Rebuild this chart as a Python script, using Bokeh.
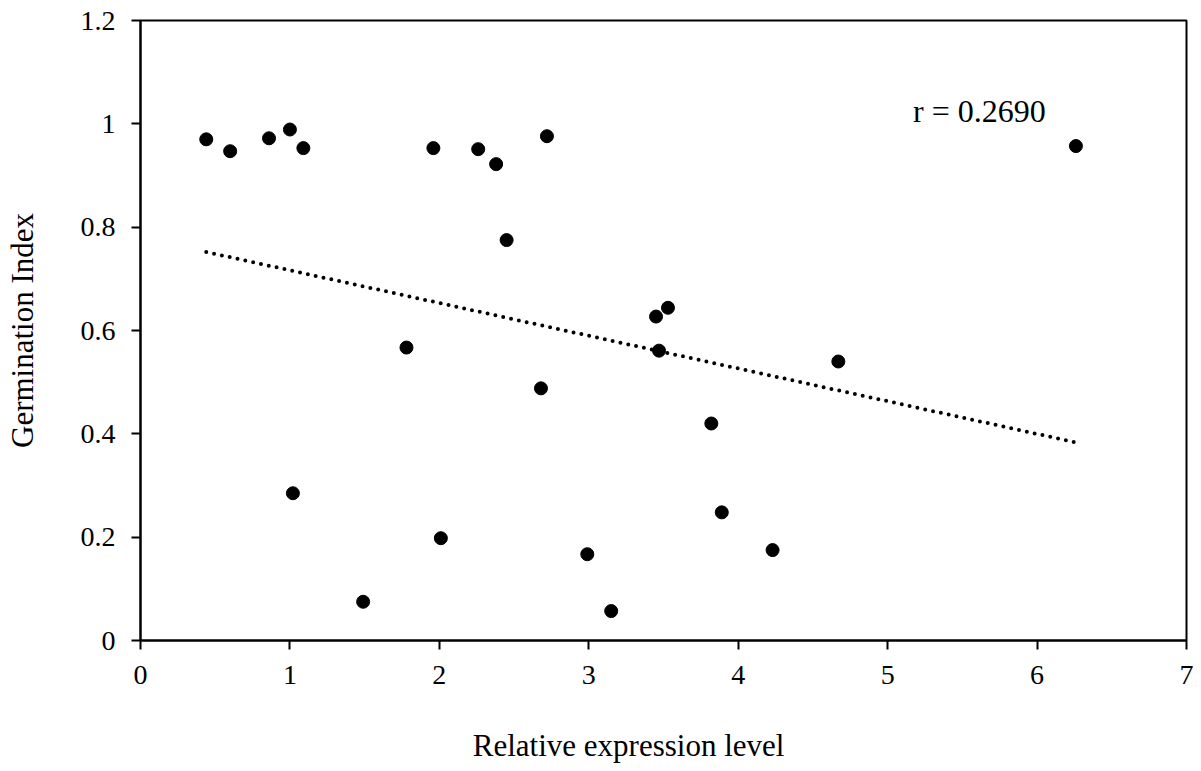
from bokeh.plotting import figure
from bokeh.models import Range1d, FixedTicker, Label
from bokeh.embed import file_html
from bokeh.resources import INLINE

# data
expr = [0.44, 0.60, 0.86, 1.00, 1.09, 1.96, 2.26, 2.38, 2.72, 2.45, 6.26,
        1.78, 2.68, 3.45, 3.53, 3.47, 4.67, 3.82, 3.89, 4.23, 1.02, 2.01,
        2.99, 1.49, 3.15]
germ = [0.970, 0.947, 0.972, 0.989, 0.953, 0.953, 0.951, 0.922, 0.976, 0.775, 0.957,
        0.567, 0.488, 0.627, 0.644, 0.561, 0.540, 0.420, 0.248, 0.175, 0.285, 0.198,
        0.167, 0.075, 0.057]
trend_x = [0.44, 6.25]
trend_y = [0.752, 0.384]
x_ticks = [0, 1, 2, 3, 4, 5, 6, 7]
y_ticks = [0, 0.2, 0.4, 0.6, 0.8, 1.0, 1.2]
y_tick_labels = ["0", "0.2", "0.4", "0.6", "0.8", "1", "1.2"]
r_text = "r = 0.2690"
x_title = "Relative expression level"
y_title = "Germination Index"

FONT = "Liberation Serif"

p = figure(width=1193, height=765, output_backend="svg", toolbar_location=None,
           x_range=Range1d(0, 7), y_range=Range1d(0, 1.2),
           min_border_left=140, min_border_top=20, min_border_right=7,
           min_border_bottom=123)
p.grid.visible = False
p.outline_line_color = "black"
p.outline_line_width = 2
p.background_fill_color = "white"
p.border_fill_color = "white"

for ax in (p.xaxis[0], p.yaxis[0]):
    ax.axis_line_width = 2
    ax.axis_line_color = "black"
    ax.major_tick_line_width = 2
    ax.major_tick_line_color = "black"
    ax.major_tick_in = 0
    ax.major_tick_out = 9
    ax.minor_tick_line_color = None
    ax.major_label_text_font = FONT
    ax.major_label_text_font_size = "28px"
    ax.major_label_text_color = "black"
    ax.axis_label_text_font = FONT
    ax.axis_label_text_font_size = "31px"
    ax.axis_label_text_font_style = "normal"
    ax.axis_label_text_color = "black"

p.xaxis.ticker = FixedTicker(ticks=x_ticks)
p.yaxis.ticker = FixedTicker(ticks=y_ticks)
p.yaxis.major_label_overrides = {t: s for t, s in zip(y_ticks, y_tick_labels)}
p.xaxis.major_label_standoff = 16
p.yaxis.major_label_standoff = 16
# trailing blank (en/no-break spaces) shifts the centred title slightly left,
# as in the original
p.xaxis.axis_label = x_title + "\u2002\u2002\u2002\u2002\u00a0"
p.yaxis.axis_label = y_title
p.xaxis.axis_label_standoff = 41
p.yaxis.axis_label_standoff = 38

p.line(trend_x, trend_y, line_color="black", line_width=4, line_dash="0 8",
       line_cap="round")
p.scatter(expr, germ, size=13, fill_color="black", line_color="black")

p.add_layout(Label(x=5.17, y=0.99, text=r_text, text_font=FONT,
                   text_font_size="32px", text_color="black",
                   text_baseline="bottom"))

open("out.html", "w").write(file_html(p, INLINE))
